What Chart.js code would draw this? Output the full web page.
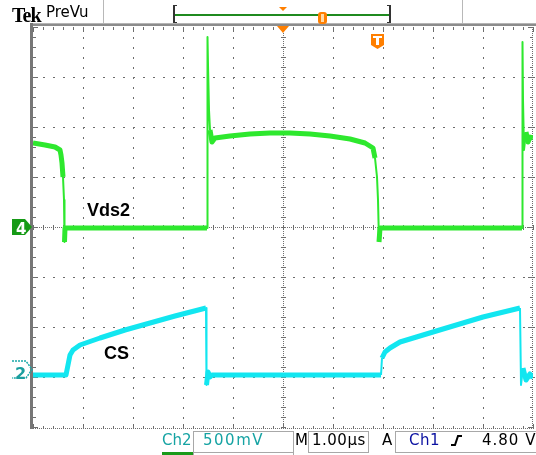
<!DOCTYPE html>
<html>
<head>
<meta charset="utf-8">
<title>Vds2 / CS</title>
<script src="https://cdn.jsdelivr.net/npm/chart.js@4/dist/chart.umd.min.js"></script>
<style>
  body { margin: 0; background: #fff; }
  #wrap { position: relative; width: 536px; height: 455px; overflow: hidden; font-family: "DejaVu Sans", sans-serif; }
  #scope { position: absolute; left: 0; top: 0; }
  .t { position: absolute; white-space: nowrap; line-height: 1; }
  .box { position: absolute; border: 1px solid #a8a8a8; box-sizing: border-box; }
</style>
</head>
<body>
<div id="wrap">
  <canvas id="scope" width="536" height="455"></canvas>

  <!-- top status line -->
  <div class="t" style="left:12px;top:4px;font:bold 20px 'Liberation Serif',serif;letter-spacing:-1px">Tek</div>
  <div class="t" style="left:46px;top:5px;font-size:15px">PreVu</div>

  <!-- waveform labels -->
  <div class="t" style="left:87px;top:200px;font:bold 18px 'Liberation Sans',Arial,sans-serif">Vds2</div>
  <div class="t" style="left:104px;top:343px;font:bold 18px 'Liberation Sans',Arial,sans-serif">CS</div>

  <!-- channel markers -->
  <div class="t" style="left:16px;top:220px;font:bold 15px 'DejaVu Sans';color:#fff">4</div>
  <div class="t" style="left:15px;top:364px;font:bold 16px 'DejaVu Sans';color:#1a9e9e">2</div>

  <!-- readout -->
  <div class="t" style="left:162px;top:433px;font-size:15px;color:#16a3a3">Ch2</div>
  <div class="box" style="left:193px;top:431px;width:101px;height:22px"></div>
  <div class="t" style="left:203px;top:433px;font-size:15px;color:#16a3a3;letter-spacing:1.5px">500mV</div>
  <div class="t" style="left:295px;top:433px;font-size:15px">M</div>
  <div class="box" style="left:308px;top:431px;width:61px;height:22px"></div>
  <div class="t" style="left:312px;top:433px;font-size:15px;letter-spacing:0.5px">1.00µs</div>
  <div class="t" style="left:382px;top:433px;font-size:15px">A</div>
  <div class="box" style="left:395px;top:431px;width:145px;height:22px"></div>
  <div class="t" style="left:409px;top:433px;font-size:15px;color:#0a10a0;letter-spacing:0.5px">Ch1</div>
  <div class="t" style="left:482px;top:433px;font-size:15px;letter-spacing:1px">4.80 V</div>
  <div class="t" style="left:162px;top:452px;width:31px;height:10px;background:#1a9a1a"></div>
  <div class="box" style="left:193px;top:452px;width:101px;height:12px"></div>
</div>

<script>
// time axis in µs (1 µs/div, 10 divisions), levels in screen divisions (0 = centre line)
const vdsTime = [0, 0.24, 0.44, 0.54, 0.56, 0.58, 0.60, 0.62, 0.63, 0.64, 3.48, 3.49, 3.50, 3.52, 3.54, 3.58, 3.64, 3.94, 4.34, 4.74, 5.14, 5.54, 5.94, 6.34, 6.64, 6.80, 6.84, 6.88, 6.90, 6.92, 6.94, 9.78, 9.79, 9.80, 9.82, 9.86, 9.90, 9.94, 10];
const vdsDiv  = [1.68, 1.64, 1.60, 1.54, 1.44, 1.28, 1.00, 0.54, -0.30, -0.02, -0.02, 3.80, 3.24, 2.34, 1.94, 1.70, 1.78, 1.82, 1.86, 1.88, 1.88, 1.86, 1.82, 1.76, 1.68, 1.58, 1.38, 1.00, 0.54, -0.30, -0.02, -0.02, 3.70, 2.54, 1.54, 1.90, 1.70, 1.80, 1.78];

const csTime = [0, 0.66, 0.70, 0.74, 0.80, 0.94, 1.34, 1.84, 2.34, 2.84, 3.46, 3.47, 3.50, 3.54, 3.58, 6.96, 6.98, 7.04, 7.14, 7.34, 8.00, 9.00, 9.74, 9.76, 9.80, 9.86, 9.94, 10];
const csDiv  = [-2.96, -2.96, -2.76, -2.56, -2.46, -2.36, -2.22, -2.06, -1.92, -1.78, -1.62, -3.16, -2.90, -3.00, -2.96, -2.96, -2.62, -2.50, -2.42, -2.30, -2.10, -1.80, -1.62, -3.16, -2.82, -3.06, -2.94, -3.02];

const divisionsX = 10;
const divisionsY = 8;

function toPoints(xs, ys) {
    return xs.map((t, i) => ({ x: t, y: ys[i] }));
}

// edges and ringing are thin, flat parts carry the noise band
function traceWidth(ctx) {
    const dx = Math.abs(ctx.p1.parsed.x - ctx.p0.parsed.x);
    const dy = Math.abs(ctx.p1.parsed.y - ctx.p0.parsed.y);
    return dy > 0.3 && dx < 0.05 ? 2 : 5;
}

// oscilloscope graticule: dotted lines, ticked centre cross and frame
const scopeGrid = {
    id: 'scopeGrid',
    beforeDatasetsDraw(chart) {
        const { ctx, chartArea: a, scales: { x, y } } = chart;
        ctx.save();

        // grey rails (top and left)
        ctx.fillStyle = '#b4b4b4';
        ctx.fillRect(30, a.top - 4, chart.width - 30, 1);
        ctx.fillStyle = '#8c8c8c';
        ctx.fillRect(30, a.top - 3, chart.width - 30, 2);
        ctx.fillStyle = '#777';
        ctx.fillRect(30, a.top - 4, 3, a.bottom - a.top + 6);

        ctx.fillStyle = '#6e6e6e';
        const steps = (n) => Array.from({ length: n * 5 + 1 }, (_, k) => k / 5);

        // inner dotted lines
        for (let i = 1; i < divisionsX; i++) {
            if (i === divisionsX / 2) continue;
            const px = Math.round(x.getPixelForValue(i));
            steps(divisionsY).forEach(s => ctx.fillRect(px, Math.round(y.getPixelForValue(-4 + s)), 1, 2));
        }
        for (let j = 1; j < divisionsY; j++) {
            if (j === divisionsY / 2) continue;
            const py = Math.round(y.getPixelForValue(-4 + j));
            steps(divisionsX).forEach(s => ctx.fillRect(Math.round(x.getPixelForValue(s)), py, 2, 1));
        }

        // centre cross
        const cx = Math.round(x.getPixelForValue(5));
        const cy = Math.round(y.getPixelForValue(0));
        for (let p = a.left; p <= a.right; p += 2) ctx.fillRect(p, cy, 1, 1);
        for (let p = a.top; p <= a.bottom; p += 2) ctx.fillRect(cx, p, 1, 1);
        steps(divisionsX).forEach(s => ctx.fillRect(Math.round(x.getPixelForValue(s)), cy - 2, 1, 5));
        steps(divisionsY).forEach(s => ctx.fillRect(cx - 2, Math.round(y.getPixelForValue(-4 + s)), 5, 1));

        // frame ticks
        const bottom = a.bottom + 1;
        for (let p = a.left; p <= a.right; p += 2) ctx.fillRect(p, bottom, 1, 1);
        for (let p = a.top; p <= bottom; p += 2) ctx.fillRect(a.right - 1, p, 1, 1);
        steps(divisionsX).forEach((s, k) => {
            const px = Math.round(x.getPixelForValue(s));
            const len = k % 5 === 0 ? 5 : 3;
            ctx.fillRect(px, a.top, 1, len);
            ctx.fillRect(px, bottom - len + 1, 1, len);
        });
        steps(divisionsY).forEach((s, k) => {
            const py = Math.round(y.getPixelForValue(-4 + s));
            const len = k % 5 === 0 ? 5 : 3;
            ctx.fillRect(a.left, py, len, 1);
            ctx.fillRect(a.right - len, py, len, 1);
        });
        ctx.restore();
    }
};

// trigger markers, PreVu bar, channel flags and slope glyph
const scopeMarks = {
    id: 'scopeMarks',
    afterDraw(chart) {
        const { ctx, chartArea: a, scales: { x, y } } = chart;
        const orange = '#ff7f00';
        const cx = x.getPixelForValue(5);
        ctx.save();

        // record-view box at the top
        ctx.fillStyle = '#b8b8b8';
        ctx.fillRect(103, 0, 1, a.top - 4);
        ctx.fillRect(462, 0, 1, a.top - 4);
        ctx.fillStyle = '#1f8a1f';
        ctx.fillRect(175, 14, 215, 2);
        ctx.fillStyle = '#333';
        ctx.fillRect(173, 5, 2, 18);
        ctx.fillRect(173, 5, 4, 1);
        ctx.fillRect(173, 22, 4, 1);
        ctx.fillRect(389, 5, 2, 18);
        ctx.fillRect(387, 5, 4, 1);
        ctx.fillRect(387, 22, 4, 1);

        ctx.fillStyle = orange;
        ctx.beginPath();
        ctx.moveTo(cx - 4, 7); ctx.lineTo(cx + 4, 7); ctx.lineTo(cx, 11); ctx.closePath();
        ctx.fill();
        ctx.beginPath();
        ctx.moveTo(cx - 6, a.top - 1); ctx.lineTo(cx + 6, a.top - 1); ctx.lineTo(cx, a.top + 6); ctx.closePath();
        ctx.fill();

        // trigger position capsule on the bar
        ctx.beginPath();
        ctx.roundRect(318, 12, 9, 12, 3);
        ctx.fill();
        ctx.fillStyle = '#ffd9a8';
        ctx.fillRect(321, 14, 3, 8);

        // trigger level icon in the graticule
        ctx.fillStyle = orange;
        ctx.beginPath();
        ctx.moveTo(371, 34); ctx.lineTo(384, 34); ctx.lineTo(384, 45); ctx.lineTo(377.5, 49); ctx.lineTo(371, 45); ctx.closePath();
        ctx.fill();
        ctx.fillStyle = '#fff';
        ctx.fillRect(373, 36, 9, 2);
        ctx.fillRect(376, 36, 3, 9);

        // ch4 flag
        const y4 = y.getPixelForValue(0);
        ctx.fillStyle = '#169a16';
        ctx.beginPath();
        ctx.moveTo(12, y4 - 8); ctx.lineTo(25, y4 - 8); ctx.lineTo(32, y4); ctx.lineTo(25, y4 + 8); ctx.lineTo(12, y4 + 8); ctx.closePath();
        ctx.fill();

        // ch2 flag (outline only)
        const y2 = y.getPixelForValue(-2.85);
        ctx.strokeStyle = '#1aa8a8';
        ctx.lineWidth = 1.5;
        ctx.setLineDash([2, 1]);
        ctx.beginPath();
        ctx.moveTo(12, y2 - 8.5); ctx.lineTo(26, y2 - 8.5); ctx.lineTo(32, y2); ctx.lineTo(26, y2 + 8.5); ctx.lineTo(12, y2 + 8.5);
        ctx.stroke();
        ctx.setLineDash([]);

        // rising-edge slope glyph in the trigger readout
        ctx.strokeStyle = '#000';
        ctx.lineWidth = 2;
        ctx.beginPath();
        ctx.moveTo(451, 445); ctx.lineTo(455, 445); ctx.lineTo(458, 436); ctx.lineTo(462, 436);
        ctx.stroke();
        ctx.restore();
    }
};

new Chart(document.getElementById('scope'), {
    type: 'line',
    data: {
        datasets: [
            {
                label: 'Vds2',
                data: toPoints(vdsTime, vdsDiv),
                borderColor: '#2ee82e',
                borderWidth: 5,
                segment: { borderWidth: traceWidth }
            },
            {
                label: 'CS',
                data: toPoints(csTime, csDiv),
                borderColor: '#12e6f0',
                borderWidth: 5,
                segment: { borderWidth: traceWidth }
            }
        ]
    },
    options: {
        responsive: false,
        animation: false,
        layout: { padding: { left: 33, right: 3, top: 27, bottom: 28 } },
        scales: {
            x: { type: 'linear', min: 0, max: divisionsX, display: false },
            y: { type: 'linear', min: -4, max: 4, display: false }
        },
        elements: {
            point: { radius: 0 },
            line: { tension: 0, borderJoinStyle: 'round' }
        },
        plugins: {
            legend: { display: false },
            tooltip: { enabled: false }
        }
    },
    plugins: [scopeGrid, scopeMarks]
});
</script>
</body>
</html>
